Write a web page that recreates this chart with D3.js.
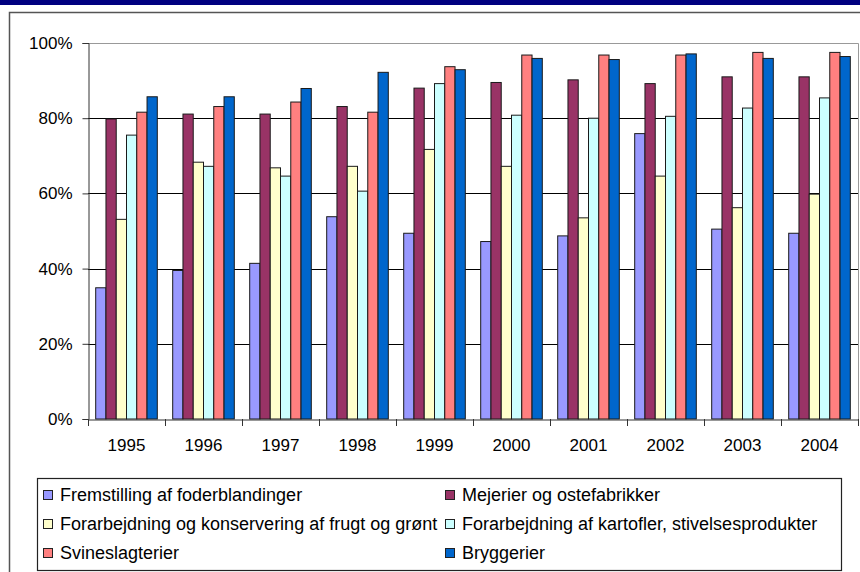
<!DOCTYPE html>
<html>
<head>
<meta charset="utf-8">
<script src="https://cdn.jsdelivr.net/npm/d3@7"></script>
<style>
	body { margin: 0; background: #fff; }
	svg { display: block; font-family: Arial, "Liberation Sans", sans-serif; }
</style>
</head>
<body>
<div id="chart"></div>
<script>
// data (share in %)
let years = ["1995", "1996", "1997", "1998", "1999", "2000", "2001", "2002", "2003", "2004"];

let seriesNames = [
	"Fremstilling af foderblandinger",
	"Mejerier og ostefabrikker",
	"Forarbejdning og konservering af frugt og grønt",
	"Forarbejdning af kartofler, stivelsesprodukter",
	"Svineslagterier",
	"Bryggerier"
];

let foder = [34.9, 39.5, 41.4, 53.8, 49.4, 47.2, 48.7, 75.9, 50.5, 49.4];
let mejerier = [79.8, 81.1, 81.1, 83.1, 88.0, 89.5, 90.2, 89.2, 91.0, 91.0];
let frugt = [53.1, 68.3, 66.8, 67.2, 71.7, 67.2, 53.5, 64.6, 56.2, 59.8];
let kartofler = [75.5, 67.2, 64.6, 60.6, 89.2, 80.8, 80.0, 80.5, 82.7, 85.4];
let svin = [81.6, 83.1, 84.3, 81.6, 93.7, 96.8, 96.8, 96.8, 97.5, 97.5];
let bryg = [85.7, 85.7, 87.9, 92.2, 92.9, 95.9, 95.6, 97.1, 95.9, 96.4];

let yTicks = [0, 20, 40, 60, 80, 100];

let colors = d3.scaleOrdinal()
	.domain(seriesNames)
	.range(["#9999ff", "#993366", "#ffffcc", "#ccffff", "#ff8080", "#0066cc"]);

let allSeries = [foder, mejerier, frugt, kartofler, svin, bryg];

let W = 860,
	H = 572;

let plot = { left: 88, right: 858, top: 43, bottom: 419 };

let svg = d3.select('#chart').append('svg')
	.attr('width', W)
	.attr('height', H);

// navy strip on top + outer chart frame
svg.append('rect')
	.attr('x', 0).attr('y', 0)
	.attr('width', W).attr('height', 5)
	.attr('fill', '#000080');

svg.append('path')
	.attr('d', 'M9.5,' + H + ' V12.5 H' + W)
	.attr('fill', 'none')
	.attr('stroke', '#555')
	.attr('stroke-width', 1.5);

// scales
let x0 = d3.scaleBand()
	.domain(years)
	.range([plot.left, plot.right]);

let x1 = d3.scaleBand()
	.domain(seriesNames)
	.range([0, x0.bandwidth()])
	.paddingOuter(0.75);

let y = d3.scaleLinear()
	.domain([0, 100])
	.range([plot.bottom, plot.top]);

// gridlines
svg.append('g')
	.selectAll('line')
	.data(yTicks.filter(function(d) { return d > 0 && d < 100 }))
	.enter().append('line')
	.attr('x1', plot.left).attr('x2', plot.right)
	.attr('y1', function(d) { return Math.round(y(d)) + 0.5 })
	.attr('y2', function(d) { return Math.round(y(d)) + 0.5 })
	.attr('stroke', '#000');

// plot area border (top and right, gray)
svg.append('path')
	.attr('d', 'M' + plot.left + ',' + (plot.top + 0.5) + ' H' + (plot.right + 0.5) + ' V' + plot.bottom)
	.attr('fill', 'none')
	.attr('stroke', '#999');

// bars
let rows = years.map(function(yr, i) {
	return {
		year: yr,
		values: seriesNames.map(function(s, j) {
			return { key: s, value: allSeries[j][i] };
		})
	};
});

svg.append('g')
	.selectAll('g')
	.data(rows)
	.enter().append('g')
	.attr('transform', function(d) { return 'translate(' + x0(d.year) + ',0)' })
	.selectAll('rect')
	.data(function(d) { return d.values })
	.enter().append('rect')
	.attr('x', function(d) { return x1(d.key) })
	.attr('y', function(d) { return y(d.value) })
	.attr('width', x1.bandwidth())
	.attr('height', function(d) { return plot.bottom - y(d.value) })
	.attr('fill', function(d) { return colors(d.key) })
	.attr('stroke', '#1a1a1a')
	.attr('stroke-width', 1);

// y axis
let yAxis = d3.axisLeft(y)
	.tickValues(yTicks)
	.tickFormat(function(d) { return d + '%' })
	.tickSize(6)
	.tickPadding(10);

svg.append('g')
	.attr('transform', 'translate(' + (plot.left + 0.5) + ',0)')
	.call(yAxis)
	.call(function(g) {
		g.selectAll('text').attr('font-size', 17).attr('fill', '#000').attr('font-family', null);
		g.selectAll('line, path').attr('stroke', '#333');
	});

// x axis: labels centered, ticks on category boundaries
let xAxis = d3.axisBottom(x0)
	.tickSize(0)
	.tickPadding(19);

svg.append('g')
	.attr('transform', 'translate(0,' + (plot.bottom + 0.5) + ')')
	.call(xAxis)
	.call(function(g) {
		g.select('.domain').attr('stroke', '#333');
		g.selectAll('text').attr('font-size', 17).attr('fill', '#000').attr('font-family', null);
	});

svg.append('g')
	.selectAll('line')
	.data(years.map(function(d) { return x0(d) }).concat([plot.right]))
	.enter().append('line')
	.attr('x1', function(d) { return Math.round(d) + 0.5 })
	.attr('x2', function(d) { return Math.round(d) + 0.5 })
	.attr('y1', plot.bottom)
	.attr('y2', plot.bottom + 7)
	.attr('stroke', '#333');

// legend
let legend = svg.append('g');

legend.append('rect')
	.attr('x', 37.5).attr('y', 478.5)
	.attr('width', 804).attr('height', 92)
	.attr('fill', '#fff')
	.attr('stroke', '#222')
	.attr('stroke-width', 1.2);

let legendItems = legend.selectAll('g.item')
	.data(seriesNames)
	.enter().append('g').classed('item', true)
	.attr('transform', function(d, i) {
		return 'translate(' + (i % 2 === 0 ? 43 : 445) + ',' + (495 + Math.floor(i / 2) * 29) + ')';
	});

legendItems.append('rect')
	.attr('x', 0.5).attr('y', -4.5)
	.attr('width', 9).attr('height', 9)
	.attr('fill', function(d) { return colors(d) })
	.attr('stroke', '#222');

legendItems.append('text')
	.attr('x', 17)
	.attr('y', 0)
	.attr('dy', '0.36em')
	.attr('font-size', 18)
	.text(function(d) { return d });
</script>
</body>
</html>
